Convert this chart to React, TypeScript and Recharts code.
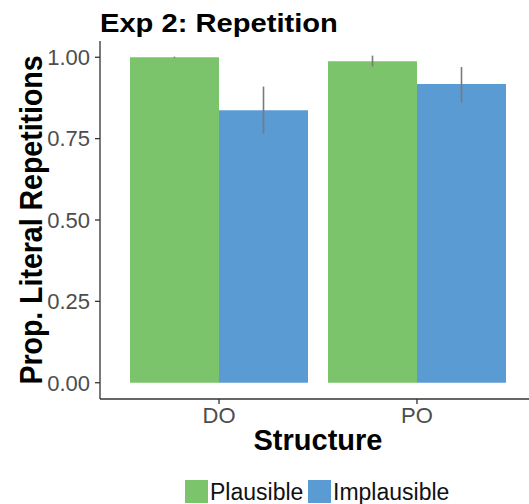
import React from "react";
import { Bar, BarChart, ErrorBar, XAxis, YAxis, Label } from "recharts";

const structures = ["DO", "PO"];
const plausible = [1.0, 0.988];
const plausibleLow = [0.998, 0.972];
const plausibleHigh = [1.002, 1.005];
const implausible = [0.837, 0.918];
const implausibleLow = [0.765, 0.861];
const implausibleHigh = [0.91, 0.97];
const yTicks = [0, 0.25, 0.5, 0.75, 1];

const GREEN = "#7cc46c";
const BLUE = "#5b9bd4";
const FONT = "'Liberation Sans', Arial, sans-serif";

const data = structures.map((s, i) => ({
  structure: s,
  plausible: plausible[i],
  plausibleErr: [plausible[i] - plausibleLow[i], plausibleHigh[i] - plausible[i]],
  implausible: implausible[i],
  implausibleErr: [implausible[i] - implausibleLow[i], implausibleHigh[i] - implausible[i]],
}));

function YTitle(props: any) {
  const vb = props.viewBox;
  const bx = 42;
  const cy = vb.y + vb.height / 2;
  return (
    <text
      x={0}
      y={0}
      transform={`translate(${bx} ${cy}) scale(1.13 1) rotate(-90)`}
      textAnchor="middle"
      fontSize={28.5}
      fontWeight="bold"
      fontFamily={FONT}
      fill="#000"
    >
      Prop. Literal Repetitions
    </text>
  );
}

function XTitle(props: any) {
  const vb = props.viewBox;
  return (
    <text
      x={vb.x + vb.width / 2}
      y={vb.y + 51}
      textAnchor="middle"
      fontSize={29}
      fontWeight="bold"
      fontFamily={FONT}
      fill="#000"
    >
      Structure
    </text>
  );
}

const legendText = {
  position: "absolute" as const,
  top: 482,
  fontSize: 23,
  lineHeight: "20px",
  color: "#111",
  whiteSpace: "nowrap" as const,
};
const swatch = { position: "absolute" as const, top: 480, width: 23, height: 23 };

export default function App() {
  const tickStyle = { fontSize: 22, fill: "#4d4d4d", fontFamily: FONT };
  return (
    <div
      style={{
        position: "absolute",
        left: 0,
        top: 0,
        width: 529,
        height: 504,
        overflow: "hidden",
        background: "#fff",
        fontFamily: FONT,
      }}
    >
      <div
        style={{
          position: "absolute",
          left: 100,
          top: 9.5,
          fontSize: 26,
          lineHeight: "26px",
          fontWeight: "bold",
          color: "#000",
          whiteSpace: "nowrap",
          transform: "scaleX(1.12)",
          transformOrigin: "left top",
        }}
      >
        Exp 2: Repetition
      </div>
      <BarChart
        width={540}
        height={504}
        data={data}
        margin={{ top: 41, right: 4, left: 0, bottom: 0 }}
        barCategoryGap={10}
        barGap={0}
      >
        <XAxis
          dataKey="structure"
          padding={{ left: 20, right: 20 }}
          height={105}
          tickSize={5}
          tickMargin={3}
          tick={tickStyle}
          stroke="#333"
          strokeWidth={1.3}
        >
          <Label content={<XTitle />} />
        </XAxis>
        <YAxis
          domain={[-0.05, 1.05]}
          ticks={yTicks}
          tickFormatter={(v: number) => v.toFixed(2)}
          width={100}
          tickSize={5}
          tickMargin={5}
          tick={tickStyle}
          stroke="#333"
          strokeWidth={1.3}
          allowDataOverflow
        >
          <Label content={<YTitle />} />
        </YAxis>
        <Bar dataKey="plausible" fill={GREEN} isAnimationActive={false}>
          <ErrorBar dataKey="plausibleErr" width={0} stroke="#7a7a7a" strokeWidth={1.6} />
        </Bar>
        <Bar dataKey="implausible" fill={BLUE} isAnimationActive={false}>
          <ErrorBar dataKey="implausibleErr" width={0} stroke="#7a7a7a" strokeWidth={1.6} />
        </Bar>
      </BarChart>
      <span style={{ ...swatch, left: 185, background: GREEN }} />
      <span style={{ ...legendText, left: 210 }}>Plausible</span>
      <span style={{ ...swatch, left: 308, background: BLUE }} />
      <span style={{ ...legendText, left: 333 }}>Implausible</span>
    </div>
  );
}
